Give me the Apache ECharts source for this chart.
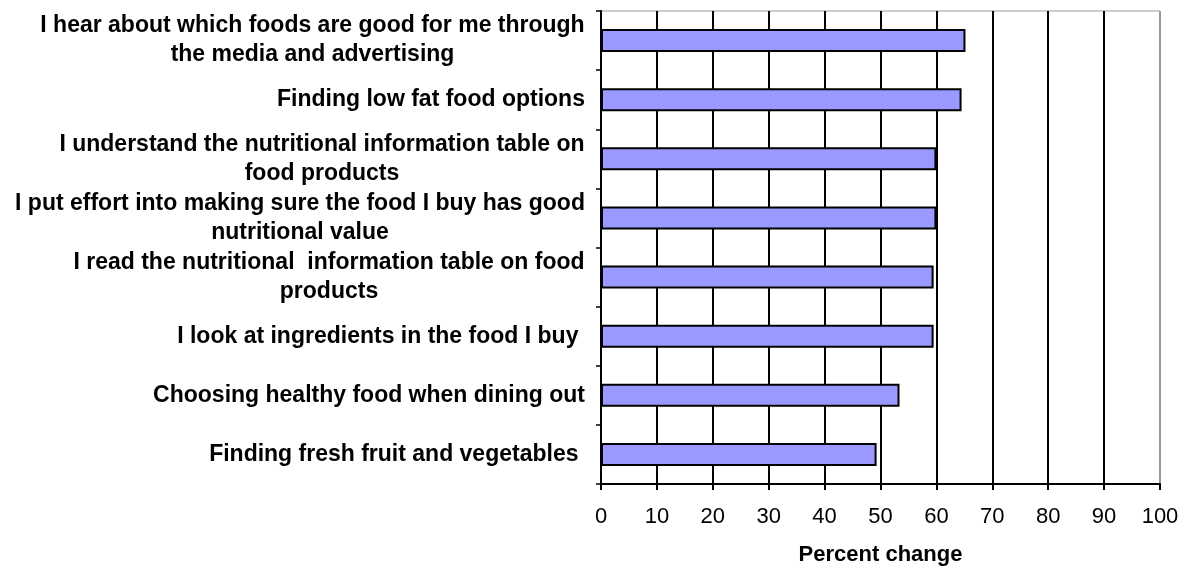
<!DOCTYPE html>
<html>
<head>
<meta charset="utf-8">
<script src="https://cdn.jsdelivr.net/npm/echarts@6/dist/echarts.min.js"></script>
<style>
  html, body { margin: 0; padding: 0; background: #fff; }
  #chart { width: 1200px; height: 580px; }
</style>
</head>
<body>
<div id="chart"></div>
<script>
// categories, top to bottom
const categories = [
  'I hear about which foods are good for me through\nthe media and advertising',
  'Finding low fat food options',
  'I understand the nutritional information table on\nfood products',
  'I put effort into making sure the food I buy has good\nnutritional value',
  'I read the nutritional  information table on food\nproducts',
  'I look at ingredients in the food I buy ',
  'Choosing healthy food when dining out',
  'Finding fresh fruit and vegetables '
]
const values = [65.2, 64.5, 60, 60, 59.5, 59.5, 53.4, 49.3]
const xTicks = [0, 10, 20, 30, 40, 50, 60, 70, 80, 90, 100]

const labelSize = 23
const labelFont = 'bold ' + labelSize + 'px "Liberation Sans", Arial, sans-serif'

// multi-line labels: lines centred on the widest one, block right-aligned
let ctx = document.createElement('canvas').getContext('2d')
ctx.font = labelFont
let rich = {}
categories.forEach((c, i) => {
  let w = Math.max(...c.split('\n').map(s => ctx.measureText(s).width))
  rich['l' + i] = {
    width: Math.ceil(w),
    align: 'center',
    fontFamily: '"Liberation Sans", Arial, sans-serif',
    fontWeight: 'bold',
    fontSize: labelSize,
    lineHeight: 29,
    color: '#000'
  }
})

// grid line colours, last one (right border) grey
let splitColors = xTicks.map((t, i) => i === xTicks.length - 1 ? '#999' : '#000')

let myChart = echarts.init(document.getElementById('chart'), null, { renderer: 'canvas' })
let option = {
  animation: false,
  grid: {
    left: 601,
    right: 40,
    top: 11,
    bottom: 96,
    show: true,
    borderColor: '#999',
    borderWidth: 1
  },
  xAxis: {
    type: 'value',
    min: 0,
    max: 100,
    interval: 10,
    name: 'Percent change',
    nameLocation: 'middle',
    nameGap: 60,
    nameTextStyle: {
      fontFamily: '"Liberation Sans", Arial, sans-serif',
      fontWeight: 'bold',
      fontSize: 22,
      color: '#000'
    },
    axisLine: { show: true, lineStyle: { color: '#000', width: 2 } },
    axisTick: { show: true, length: 6, lineStyle: { color: '#000', width: 2 } },
    axisLabel: {
      margin: 22,
      fontFamily: '"Liberation Sans", Arial, sans-serif',
      fontSize: 22,
      color: '#000'
    },
    splitLine: { show: true, lineStyle: { color: splitColors, width: 2 } }
  },
  yAxis: {
    type: 'category',
    data: categories,
    inverse: true,
    axisLine: { show: true, lineStyle: { color: '#000', width: 2 } },
    axisTick: { show: true, length: 5, lineStyle: { color: '#000', width: 1.5 } },
    axisLabel: {
      margin: 16,
      formatter: (value, idx) => value.split('\n').map(s => '{l' + idx + '|' + s + '}').join('\n'),
      rich: rich
    },
    splitLine: { show: false }
  },
  series: [
    {
      type: 'bar',
      data: values,
      barWidth: '39%',
      itemStyle: { color: '#9999FF', borderColor: '#000', borderWidth: 2 }
    }
  ]
}
myChart.setOption(option)
</script>
</body>
</html>
